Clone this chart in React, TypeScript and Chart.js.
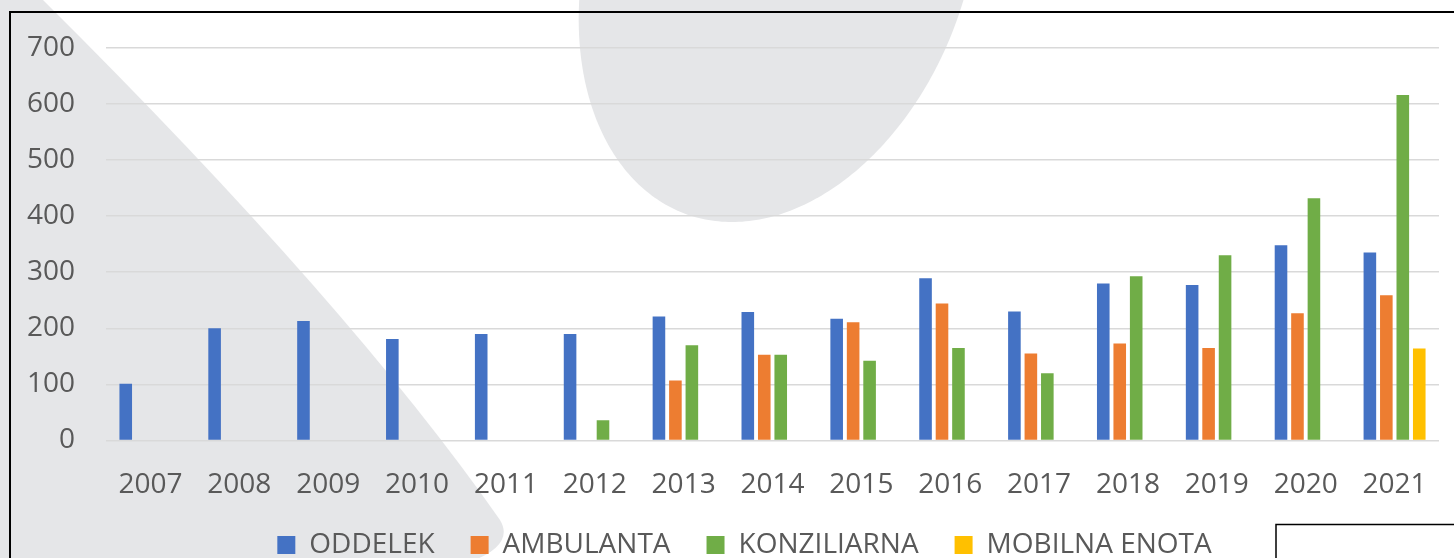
import React, { useEffect, useRef } from "react";
import { Chart, registerables } from "chart.js";

Chart.register(...registerables);

const categories = ["2007", "2008", "2009", "2010", "2011", "2012", "2013", "2014", "2015", "2016", "2017", "2018", "2019", "2020", "2021"];
const oddelek = [101, 200, 213, 181, 190, 190, 221, 229, 217, 289, 230, 280, 277, 348, 335];
const ambulanta = [null, null, null, null, null, null, 107, 153, 211, 244, 155, 173, 165, 227, 259];
const konziliarna = [null, null, null, null, null, 36, 170, 153, 142, 165, 120, 293, 330, 432, 616];
const mobilnaEnota = [null, null, null, null, null, null, null, null, null, null, null, null, null, null, 164];
const seriesNames = ["ODDELEK", "AMBULANTA", "KONZILIARNA", "MOBILNA ENOTA"];
const seriesColors = ["#4472C4", "#ED7D31", "#70AD47", "#FFC000"];

const FONT = "'Open Sans', sans-serif";
const TEXT = "#595959";
const GRAY = "#e5e6e8";

const decorPlugin = {
  id: "decor",
  afterLayout(chart: any) {
    if (chart.legend) chart.legend.left = 50;
  },
  beforeDraw(chart: any) {
    const ctx: CanvasRenderingContext2D = chart.ctx;
    ctx.save();
    ctx.fillStyle = "#ffffff";
    ctx.fillRect(0, 0, chart.width, chart.height);
    ctx.fillStyle = GRAY;
    // left diagonal shape
    ctx.beginPath();
    ctx.moveTo(0, 0);
    ctx.lineTo(43, 0);
    ctx.quadraticCurveTo(350, 305, 500, 520);
    ctx.quadraticCurveTo(515, 545, 470, 562);
    ctx.lineTo(0, 575);
    ctx.closePath();
    ctx.fill();
    // top sheared ellipse
    const cy = -43, H = 265, wMax = 194.7, shear = 0.1775, cxAt = 779;
    ctx.beginPath();
    for (let i = 0; i <= 360; i++) {
      const t = (i / 360) * Math.PI * 2;
      const y = cy + H * Math.sin(t);
      const x = cxAt - shear * (y - cy) + wMax * Math.cos(t);
      if (i === 0) ctx.moveTo(x, y);
      else ctx.lineTo(x, y);
    }
    ctx.closePath();
    ctx.fill();
    // frame border
    ctx.strokeStyle = "#000000";
    ctx.lineWidth = 2;
    ctx.beginPath();
    ctx.moveTo(10, 600);
    ctx.lineTo(10, 12);
    ctx.lineTo(1460, 12);
    ctx.stroke();
    // small box bottom right
    ctx.lineWidth = 1.5;
    ctx.fillStyle = "#ffffff";
    ctx.fillRect(1276, 524.5, 200, 100);
    ctx.strokeRect(1276, 524.5, 200, 100);
    ctx.restore();
  },
};

export default function App() {
  const ref = useRef<HTMLCanvasElement | null>(null);

  useEffect(() => {
    if (!ref.current) return;
    const datasets = [oddelek, ambulanta, konziliarna, mobilnaEnota].map((d, i) => ({
      label: seriesNames[i],
      data: d,
      backgroundColor: seriesColors[i],
      borderWidth: 0,
      categoryPercentage: 0.741,
      barPercentage: 0.765,
    }));
    const chart = new Chart(ref.current, {
      type: "bar",
      data: { labels: categories, datasets },
      options: {
        animation: false,
        responsive: false,
        maintainAspectRatio: false,
        layout: { padding: { left: 0, right: 15, top: 45, bottom: 0 } },
        plugins: {
          legend: {
            position: "bottom",
            labels: {
              boxWidth: 18,
              boxHeight: 18,
              padding: 36,
              color: TEXT,
              font: { family: FONT, size: 28 },
            },
          },
          tooltip: { enabled: false },
        },
        scales: {
          x: {
            grid: { display: false },
            border: { display: false },
            ticks: {
              color: TEXT,
              font: { family: FONT, size: 28 },
              padding: 19.5,
              maxRotation: 0,
              autoSkip: false,
            },
            afterFit: (s: any) => { s.height = 54.5; },
          },
          y: {
            min: 0,
            max: 700,
            grid: { color: "#d9d9d9", lineWidth: 1.5, drawTicks: false },
            border: { display: false },
            ticks: {
              stepSize: 100,
              color: TEXT,
              font: { family: FONT, size: 28 },
              padding: 31,
            },
            afterFit: (s: any) => { s.width = 106; },
          },
        },
      },
      plugins: [decorPlugin],
    } as any);
    return () => chart.destroy();
  }, []);

  return (
    <div style={{ position: "absolute", left: 0, top: 0, width: 1454, height: 558, overflow: "hidden", background: "#fff" }}>
      <canvas ref={ref} width={1454} height={569} style={{ display: "block", width: 1454, height: 569 }} />
    </div>
  );
}
